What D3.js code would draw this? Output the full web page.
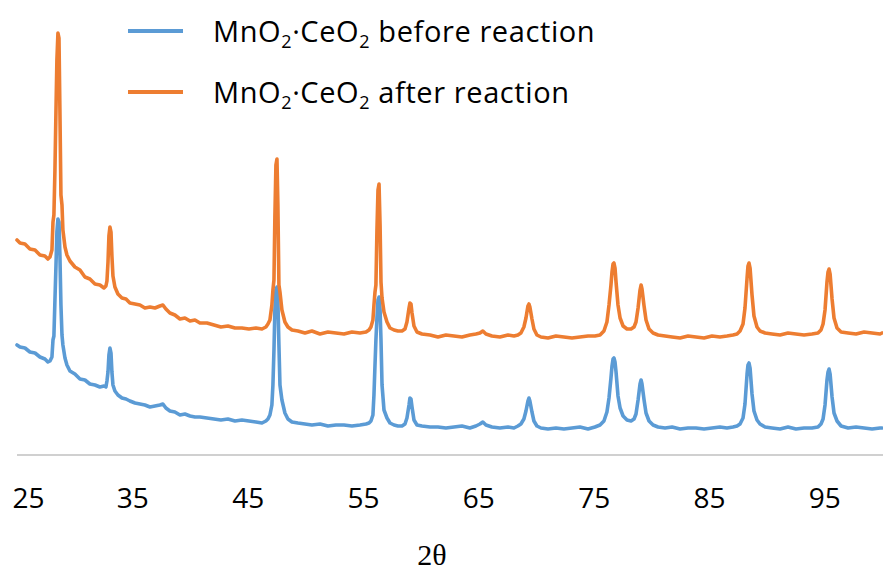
<!DOCTYPE html>
<html>
<head>
<meta charset="utf-8">
<title>XRD patterns of MnO2·CeO2</title>
<script src="https://cdn.jsdelivr.net/npm/d3@7"></script>
<style>
  html, body { margin: 0; padding: 0; background: #ffffff; }
  svg { display: block; }
</style>
</head>
<body>
<svg id="chart" width="883" height="574"></svg>
<script>
// Diffraction angle (2θ, degrees) shared by both scans
const twoTheta = [
  25.00, 25.26, 25.69, 26.12, 26.56, 26.99, 27.42, 27.68, 27.86, 28.03,
  28.12, 28.20, 28.29, 28.38, 28.46, 28.55, 28.64, 28.72, 28.81, 28.90, 28.98, 29.16, 29.33,
  29.59, 30.02, 30.46, 30.89, 31.32, 31.76, 32.19, 32.54, 32.71,
  32.80, 32.89, 32.97, 33.06, 33.15, 33.23, 33.32, 33.49, 33.75,
  34.10, 34.45, 34.79, 35.23, 35.66, 36.09, 36.53, 36.96, 37.39, 37.65,
  37.91, 38.26, 38.69, 39.13, 39.56, 40.00, 40.43, 40.86, 41.47, 42.08,
  42.68, 43.29, 43.90, 44.50, 45.11, 45.72, 46.24, 46.58,
  46.76, 46.93, 47.10, 47.19, 47.28, 47.36, 47.45, 47.54, 47.62, 47.71, 47.80, 47.97, 48.23, 48.49, 48.84,
  49.36, 49.97, 50.57, 51.27, 51.96, 52.65, 53.35, 54.04, 54.74, 55.26, 55.52,
  55.69, 55.86, 55.95, 56.04, 56.12, 56.21, 56.30, 56.39, 56.48, 56.56,
  56.65, 56.82, 57.08, 57.34, 57.69, 58.03, 58.38, 58.64, 58.81, 58.99,
  59.07, 59.16, 59.25, 59.42, 59.68,
  60.11, 60.81, 61.50, 62.19, 62.89, 63.58, 64.27, 64.79, 65.14, 65.39, 65.66, 66.18, 66.87, 67.57, 68.09, 68.43,
  68.69, 68.95, 69.13, 69.30, 69.39, 69.47, 69.65, 69.82, 70.08,
  70.43, 71.04, 71.73, 72.42, 73.12, 73.81, 74.51, 75.11, 75.55,
  75.89, 76.15, 76.33, 76.50, 76.59, 76.68, 76.76, 76.85, 76.94, 77.11,
  77.29, 77.55, 77.89, 78.24, 78.50, 78.67, 78.85, 79.02, 79.11, 79.19,
  79.37, 79.54, 79.80, 80.15, 80.58,
  81.19, 81.80, 82.49, 83.18, 83.87, 84.57, 85.26, 85.95, 86.56, 87.08, 87.43,
  87.69, 87.95, 88.12, 88.30, 88.38, 88.47, 88.56, 88.73, 88.90, 89.16, 89.42, 89.86,
  90.46, 91.16, 91.85, 92.54, 93.24, 93.93, 94.45,
  94.71, 94.89, 95.06, 95.23, 95.32, 95.41, 95.50, 95.67, 95.84, 96.10, 96.45,
  97.06, 97.75, 98.45, 99.14, 99.83, 100.00
];

// Intensity (a.u.), fresh catalyst
const beforeReaction = [
  1100, 1080, 1070, 1030, 1020, 980, 960, 930, 940, 980,
  1150, 1190, 1550, 1900, 2230, 2360, 2330, 2000, 1500, 1200, 1100, 970, 900,
  840, 810, 760, 750, 710, 700, 680, 690, 680,
  740, 830, 1000, 1070, 1020, 830, 700, 640, 600,
  570, 560, 540, 520, 510, 500, 480, 490, 500, 510,
  470, 440, 430, 400, 410, 390, 380, 380, 370, 360,
  350, 360, 340, 350, 340, 330, 320, 340,
  360, 400, 500, 700, 1050, 1450, 1650, 1680, 1550, 1100, 700, 550, 420, 360, 330,
  320, 310, 300, 310, 290, 300, 300, 290, 300, 310, 320,
  340, 400, 600, 900, 1150, 1370, 1550, 1580, 1450, 1150,
  700, 450, 370, 320, 300, 290, 290, 310, 370, 500,
  570, 560, 480, 350, 300,
  290, 280, 280, 270, 280, 290, 270, 290, 310, 330, 300, 280, 270, 280, 270, 290,
  310, 360, 440, 540, 570, 540, 430, 340, 290,
  270, 260, 270, 260, 270, 280, 260, 280, 300,
  340, 430, 570, 770, 890, 960, 970, 930, 830, 590,
  470, 390, 350, 340, 360, 410, 550, 710, 750, 710,
  550, 420, 340, 300, 280,
  270, 280, 260, 270, 270, 260, 270, 280, 270, 280, 290,
  310, 370, 510, 810, 900, 920, 870, 610, 440, 350, 310, 280,
  270, 260, 280, 260, 270, 270, 280,
  310, 360, 500, 750, 830, 860, 810, 580, 420, 340, 290,
  270, 280, 270, 260, 270, 270
];

// Intensity (a.u.), used catalyst (scan stacked above the fresh one)
const afterReaction = [
  2150, 2120, 2110, 2060, 2050, 2000, 1990, 1960, 1980, 2050,
  2330, 2400, 2850, 3450, 3950, 4220, 4170, 3450, 2600, 2500, 2250, 2080, 2000,
  1940, 1880, 1850, 1780, 1760, 1710, 1700, 1670, 1690,
  1740, 1930, 2190, 2280, 2230, 1990, 1790, 1680, 1610,
  1570, 1560, 1520, 1510, 1500, 1470, 1480, 1470, 1490, 1500,
  1460, 1420, 1400, 1360, 1370, 1340, 1350, 1320, 1320, 1300,
  1280, 1290, 1270, 1270, 1260, 1270, 1260, 1280,
  1310, 1350, 1500, 1650, 1750, 2380, 2900, 2960, 2500, 1700, 1630, 1450, 1330, 1280, 1250,
  1240, 1220, 1240, 1210, 1230, 1220, 1210, 1230, 1220, 1230, 1250,
  1280, 1350, 1500, 1630, 1700, 2250, 2650, 2710, 2300, 1730,
  1570, 1430, 1330, 1270, 1250, 1240, 1240, 1260, 1330, 1470,
  1520, 1510, 1420, 1290, 1230,
  1210, 1200, 1180, 1200, 1190, 1180, 1200, 1210, 1220, 1240, 1210, 1190, 1180, 1200, 1190, 1200,
  1220, 1280, 1370, 1490, 1510, 1480, 1360, 1260, 1200,
  1180, 1170, 1190, 1180, 1170, 1180, 1190, 1190, 1200,
  1240, 1330, 1500, 1700, 1830, 1910, 1920, 1870, 1730, 1500,
  1370, 1290, 1260, 1260, 1280, 1330, 1470, 1650, 1700, 1660,
  1490, 1350, 1260, 1220, 1200,
  1190, 1180, 1170, 1190, 1180, 1170, 1190, 1180, 1190, 1200, 1210,
  1240, 1310, 1470, 1770, 1890, 1920, 1870, 1600, 1390, 1280, 1240, 1220,
  1210, 1200, 1220, 1210, 1200, 1210, 1220,
  1250, 1310, 1450, 1730, 1830, 1860, 1810, 1560, 1370, 1270, 1230,
  1220, 1210, 1230, 1220, 1210, 1220
];

const tickLabels = [25, 35, 45, 55, 65, 75, 85, 95];
const seriesLabels = ["before reaction", "after reaction"];
const seriesColors = ["#5b9bd5", "#ed7d31"];

const svg = d3.select("#chart");

const x = d3.scaleLinear().domain([25, 100]).range([17, 882]);
const y = d3.scaleLinear().domain([0, 4400]).range([455, 15]);

// x axis: thin grey baseline, no tick marks
const axis = svg.append("g")
  .attr("transform", "translate(0,455)")
  .call(d3.axisBottom(x).tickValues(tickLabels).tickSize(0).tickPadding(33).tickSizeOuter(0));
axis.select(".domain")
  .attr("stroke", "#d0d0d0")
  .attr("stroke-width", 2)
  .attr("d", "M" + x(25) + ",0H883");
axis.selectAll(".tick text")
  .attr("fill", "#000")
  .style("font-family", "'Open Sans', 'Noto Sans', sans-serif")
  .style("font-size", "28px");
// keep the first label inside the plotting area
axis.selectAll(".tick text").filter((d, i) => i === 0)
  .attr("text-anchor", "start")
  .attr("x", -5);

svg.append("text")
  .attr("x", 432)
  .attr("y", 565)
  .attr("text-anchor", "middle")
  .style("font-family", "'Liberation Serif', 'DejaVu Serif', serif")
  .style("font-size", "30px")
  .attr("fill", "#000")
  .text("2θ");

// scan lines
const scans = [beforeReaction, afterReaction].map(vals =>
  twoTheta.map((t, i) => ({ t, v: vals[i] })));

const line = d3.line()
  .x(d => x(d.t))
  .y(d => y(d.v));

svg.append("g")
  .selectAll("path")
  .data(scans)
  .join("path")
  .attr("d", line)
  .attr("fill", "none")
  .attr("stroke", (d, i) => seriesColors[i])
  .attr("stroke-width", 3.6)
  .attr("stroke-linejoin", "round")
  .attr("stroke-linecap", "round");

// legend
const legend = svg.append("g");
const rowY = [31, 92];
seriesLabels.forEach((label, i) => {
  legend.append("line")
    .attr("x1", 128).attr("x2", 183)
    .attr("y1", rowY[i]).attr("y2", rowY[i])
    .attr("stroke", seriesColors[i])
    .attr("stroke-width", 4);
  const t = legend.append("text")
    .attr("x", 213)
    .attr("y", rowY[i] + 11)
    .attr("fill", "#000")
    .style("font-family", "'Open Sans', 'Noto Sans', sans-serif")
    .style("font-size", "29px")
    .style("letter-spacing", "0.6px");
  t.append("tspan").text("MnO");
  t.append("tspan").attr("dy", 6).style("font-size", "18px").text("2");
  t.append("tspan").attr("dy", -6).text("·CeO");
  t.append("tspan").attr("dy", 6).style("font-size", "18px").text("2");
  t.append("tspan").attr("dy", -6).text(" " + label);
});
</script>
</body>
</html>
